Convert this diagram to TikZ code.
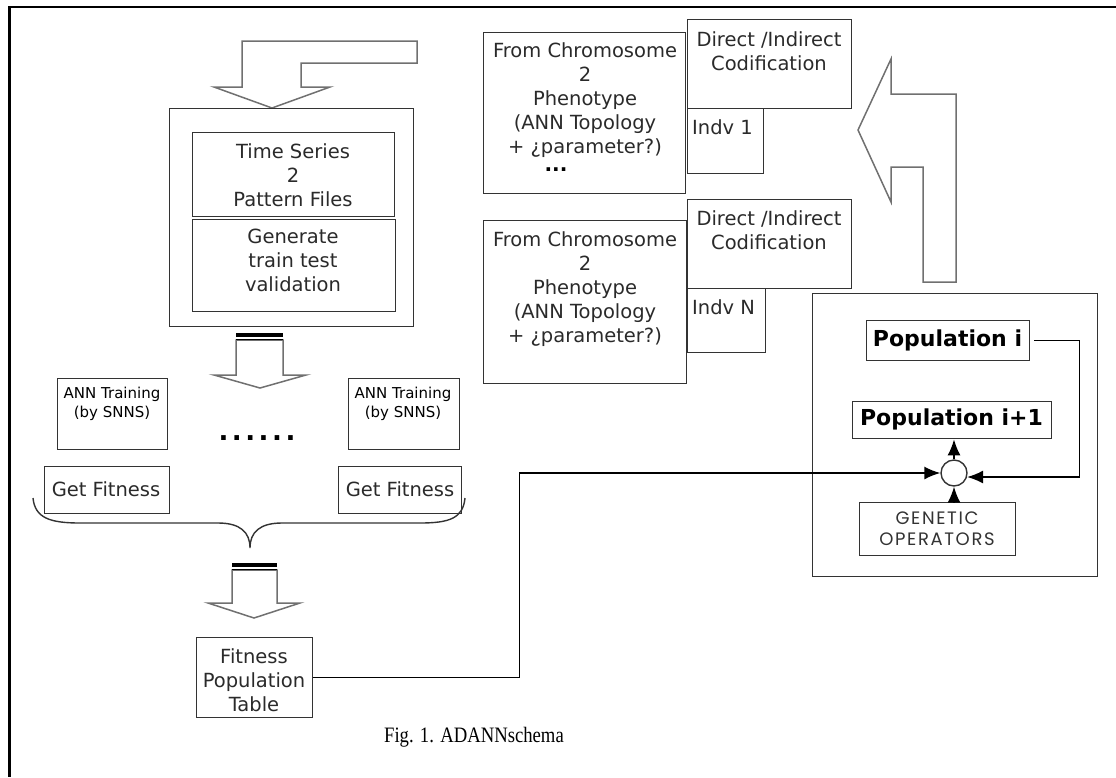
\documentclass[tikz,border=0pt]{standalone}
\usepackage{fontspec}
\setmainfont{DejaVu Sans}
\newfontfamily\capfont{Liberation Serif}
\newfontfamily\genfont[LetterSpace=9]{Poppins}
\usetikzlibrary{arrows.meta}
\definecolor{bc}{HTML}{333333}
\definecolor{ac}{HTML}{707070}
\definecolor{tc}{HTML}{2A2A2A}
\newcommand\bx[5]{\node[box,minimum width=#4pt,minimum height=#5pt] (#1) at (#2,#3) {};}
\begin{document}
\begin{tikzpicture}[x=1pt,y=-1pt,
  box/.style={draw=bc, line width=1.4pt, inner sep=0pt, anchor=north west},
  txt/.style={text=tc, align=center, inner sep=0pt, font=\fontsize{19.5}{24}\selectfont},
  smalltxt/.style={text=black, align=center, inner sep=0pt, font=\fontsize{15}{19}\selectfont},
  boldtxt/.style={text=black, align=center, inner sep=0pt, font=\bfseries\fontsize{22}{26}\selectfont},
  gentxt/.style={text=bc, align=center, inner sep=0pt, font=\genfont\fontsize{18}{21}\selectfont},
  dottxt/.style={text=black, inner sep=0pt, font=\bfseries\fontsize{26}{26}\selectfont},
  blockarrow/.style={draw=ac, line width=1.5pt, line join=miter},
  conn/.style={draw=black, line width=1.5pt},
  tip/.style={-{Latex[length=16pt,width=13pt]}}
]
\useasboundingbox (0,0) rectangle (1116,777);
% frame
\draw[line width=2.5pt] (1116,7) -- (9.5,7) -- (9.5,777);

% block arrows
\draw[blockarrow] (242,87) -- (242,41) -- (417,41) -- (417,63) -- (301,63) -- (301,87)
  -- (330,87) -- (272,108) -- (214,87) -- cycle;
\draw[blockarrow] (236,340) -- (283,340) -- (283,375) -- (306,375) -- (260,388)
  -- (214,375) -- (236,375) -- cycle;
\fill (236,333) rectangle (283,337);
\draw[line width=1pt] (236,339.5) -- (283,339.5);
\draw[blockarrow] (232,570) -- (277,570) -- (277,603) -- (300,603) -- (254,618)
  -- (208,603) -- (232,603) -- cycle;
\fill (232,563) rectangle (277,567);
\draw[line width=1pt] (232,569.5) -- (277,569.5);
\draw[blockarrow] (923,282) -- (956,282) -- (956,94) -- (891,94) -- (891,59)
  -- (858,130) -- (891,202) -- (891,167) -- (923,167) -- cycle;

% boxes
\bx{outer}{169}{108}{244}{218}
\bx{tsA}{192}{132}{202}{84}
\bx{tsB}{192}{219}{203}{92}
\bx{ann1}{57}{378}{110}{71}
\bx{ann2}{348}{378}{111}{71}
\bx{gf1}{44}{466}{125}{47}
\bx{gf2}{338}{466}{123}{47}
\bx{fit}{196}{637}{116}{80}
\bx{from1}{483}{32}{202}{161}
\bx{dir1}{687}{19}{164}{89}
\bx{ind1}{687}{108}{76}{65}
\bx{from2}{483}{220}{203}{163}
\bx{dir2}{687}{199}{164}{89}
\bx{ind2}{687}{288}{78}{64}
\bx{big}{812}{293}{285}{283}
\bx{popi}{866}{320}{163}{40}
\bx{popn}{852}{401}{199}{37}
\bx{gen}{859}{502}{156}{53}
\node[draw=bc, line width=1.4pt, circle, minimum size=26pt, inner sep=0pt] (circ) at (954,473) {};

% texts
\node[txt] (tsAt) at (293,175) {Time Series\\2\\Pattern Files};
\node[txt] (tsBt) at (293,260) {Generate\\train test\\validation};
\node[smalltxt] (ann1t) at (112,403.5) {ANN Training\\(by SNNS)};
\node[smalltxt] (ann2t) at (403,403.5) {ANN Training\\(by SNNS)};
\node[dottxt] (dotsA) at (257,438)
  {.\hspace{3.5pt}.\hspace{3.5pt}.\hspace{3.5pt}.\hspace{3.5pt}.\hspace{3.5pt}.};
\node[txt] (gf1t) at (106,489) {Get Fitness};
\node[txt] (gf2t) at (400,489) {Get Fitness};
\node[txt] (fitt) at (254,680) {Fitness\\Population\\Table};
\node[txt] (from1t) at (585,100) {From Chromosome\\2\\Phenotype\\(ANN Topology\\+ ¿parameter?)};
\node[txt, text=black, font=\bfseries\fontsize{20}{24}\selectfont] (dotsB) at (556,170) {...};
\node[txt] (from2t) at (585,289) {From Chromosome\\2\\Phenotype\\(ANN Topology\\+ ¿parameter?)};
\node[txt] (dir1t) at (769,51.5) {Direct /Indirect\\Codification};
\node[txt] (dir2t) at (769,230) {Direct /Indirect\\Codification};
\node[txt, anchor=west] (ind1t) at (692,127) {Indv 1};
\node[txt, anchor=west] (ind2t) at (692,307) {Indv N};
\node[boldtxt] (popit) at (947.5,340) {Population i};
\node[boldtxt] (popnt) at (951.5,419.5) {Population i+1};
\node[gentxt] (gent) at (937,529) {GENETIC\\OPERATORS};
\node[inner sep=0pt, font=\capfont\fontsize{22}{26}\selectfont] (cap) at (474,737)
  {\scalebox{0.85}[1]{Fig. 1. ADANNschema}};

% brace
\draw[draw=bc, line width=1.4pt] (33,498) .. controls (35,518) and (50,523) .. (80,523)
  -- (218,523) .. controls (240,523) and (250,532) .. (250,548)
  .. controls (250,532) and (260,523) .. (282,523)
  -- (420,523) .. controls (450,523) and (463,518) .. (465,498);

% connectors
\draw[conn, tip] (fit.east) -- ++(206,0) |- (circ.west);
\draw[conn, tip] ([xshift=4pt]popi.east) -- ++(45,0) |- (circ.-17);
\draw[conn, tip] (circ.north) -- (circ.north |- popn.south);
\draw[conn, tip] (gen.north -| circ) -- (circ.south);
\end{tikzpicture}
\end{document}
